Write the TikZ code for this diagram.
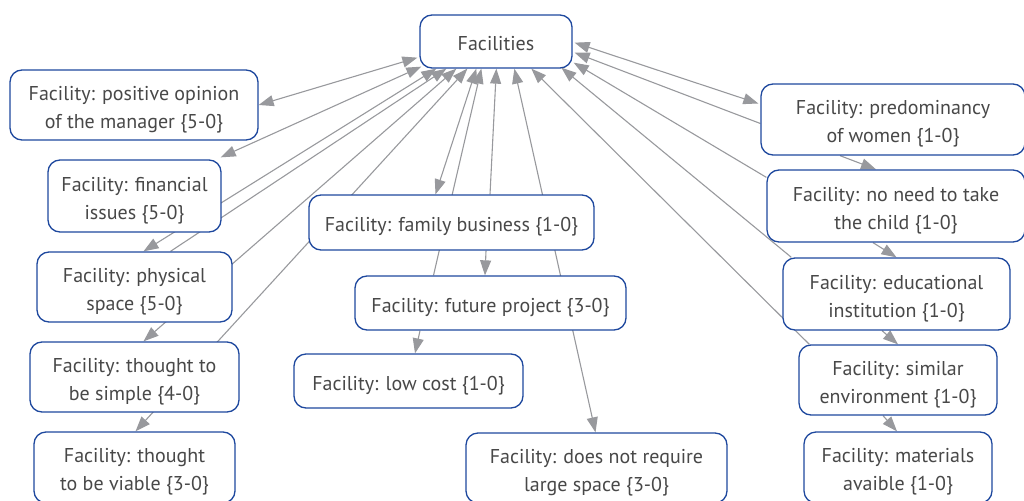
\documentclass[tikz,border=0pt]{standalone}
\usepackage{fontspec}
\setmainfont{PT Sans}
\usetikzlibrary{arrows.meta,backgrounds}
\definecolor{boxblue}{RGB}{30,72,158}
\definecolor{linkgray}{RGB}{152,153,157}
\definecolor{labelgray}{RGB}{72,72,72}
\newcommand{\rowpad}{\rule{0pt}{23pt}}
\tikzstyle{facility}=[draw=boxblue, line width=1.3pt, rounded corners=12pt, fill=white, text=labelgray, align=center, inner sep=0pt, font=\fontsize{20}{28}\selectfont]
\tikzstyle{link}=[draw=linkgray, line width=1.1pt]

\begin{document}
\begin{tikzpicture}[x=1pt, y=-1pt, >={Triangle[length=15pt,width=11pt]}]
    \useasboundingbox (0,0) rectangle (1024,500);
    \node[facility, minimum width=152pt, minimum height=53pt] (fac) at (496,41.5) {\rule{0pt}{18pt}Facilities};
    \node[facility, minimum width=248pt, minimum height=70pt] (pos) at (134,105) {\rowpad Facility: positive opinion\\of the manager \{5-0\}};
    \node[facility, minimum width=173pt, minimum height=72pt] (fin) at (134.5,196) {\rowpad Facility: financial\\issues \{5-0\}};
    \node[facility, minimum width=195pt, minimum height=70pt] (phys) at (134.5,287) {\rowpad Facility: physical\\space \{5-0\}};
    \node[facility, minimum width=209pt, minimum height=70pt] (simple) at (134.5,377) {\rowpad Facility: thought to\\be simple \{4-0\}};
    \node[facility, minimum width=201pt, minimum height=71pt] (viable) at (134.5,467.5) {\rowpad Facility: thought\\to be viable \{3-0\}};
    \node[facility, minimum width=285pt, minimum height=55pt] (family) at (451.5,222.5) {\rowpad Facility: family business \{1-0\}};
    \node[facility, minimum width=271pt, minimum height=54pt] (future) at (490.5,303) {\rowpad Facility: future project \{3-0\}};
    \node[facility, minimum width=229pt, minimum height=54pt] (low) at (408.5,381) {\rowpad Facility: low cost \{1-0\}};
    \node[facility, minimum width=261pt, minimum height=70pt] (large) at (596.5,468) {\rowpad Facility: does not require\\large space \{3-0\}};
    \node[facility, minimum width=264pt, minimum height=71pt] (women) at (893,119.5) {\rowpad Facility: predominancy\\of women \{1-0\}};
    \node[facility, minimum width=258pt, minimum height=72pt] (child) at (896,206) {\rowpad Facility: no need to take\\the child \{1-0\}};
    \node[facility, minimum width=227pt, minimum height=72pt] (edu) at (896.5,294) {\rowpad Facility: educational\\institution \{1-0\}};
    \node[facility, minimum width=198pt, minimum height=70pt] (similar) at (898,380) {\rowpad Facility: similar\\environment \{1-0\}};
    \node[facility, minimum width=188pt, minimum height=71pt] (materials) at (898,467.5) {\rowpad Facility: materials\\avaible \{1-0\}};

    \begin{scope}[on background layer]
        \draw[link,<->] ([shift={(-2,-11)}]fac.south west) -- (pos.east);
        \draw[link,<->] ([shift={(2,-2)}]fac.south west) -- ([shift={(-1,-2)}]fin.north east);
        \draw[link,<->] ([shift={(17,0)}]fac.south west) -- ([shift={(9,0)}]phys.north);
        \draw[link,->] ([shift={(36,0)}]phys.north) -- ([shift={(27,0)}]fac.south west);
        \draw[link,<->] ([shift={(37,0)}]fac.south west) -- ([shift={(9,0)}]simple.north);
        \draw[link,<->] ([shift={(48,0)}]fac.south west) -- ([shift={(1,0)}]viable.north);
        \draw[link,<->] ([shift={(57,0)}]fac.south west) -- ([shift={(-16,0)}]family.north);
        \draw[link,->] ([shift={(-57,0)}]future.north) -- ([shift={(62,0)}]fac.south west);
        \draw[link,->] ([shift={(38.5,0)}]family.north) -- ([shift={(77,0)}]fac.south west);
        \draw[link,<->] ([shift={(95,0)}]fac.south west) -- ([shift={(-1,0)}]large.north);
        \draw[link,->] ([shift={(11,0)}]similar.north west) -- ([shift={(112,0)}]fac.south west);
        \draw[link,->] ([shift={(9,0)}]edu.north west) -- ([shift={(142,-1)}]fac.south west);
        \draw[link,->] ([shift={(0,8)}]child.north west) -- ([shift={(1,-6)}]fac.south east);
        \draw[link,->] ([shift={(0,4)}]women.west) -- ([shift={(2,-16)}]fac.south east);
        \draw[link,<->] ([shift={(2,-26)}]fac.south east) -- ([shift={(-2,-16)}]women.west);
        \draw[link,->] ([shift={(-53,0)}]women.south) -- ([shift={(-20,0)}]child.north);
        \draw[link,->] ([shift={(-23,0)}]child.south) -- (edu.north);
        \draw[link,->] ([shift={(-14.5,0)}]edu.south) -- (similar.north);
        \draw[link,->] ([shift={(-15,0)}]similar.south) -- ([shift={(-1,0)}]materials.north);
        \draw[link,->] ([shift={(34.5,0)}]family.south) -- ([shift={(-5.5,0)}]future.north);
        \draw[link,->] ([shift={(-70.5,0)}]future.south) -- ([shift={(6.5,0)}]low.north);
    \end{scope}
\end{tikzpicture}
\end{document}
